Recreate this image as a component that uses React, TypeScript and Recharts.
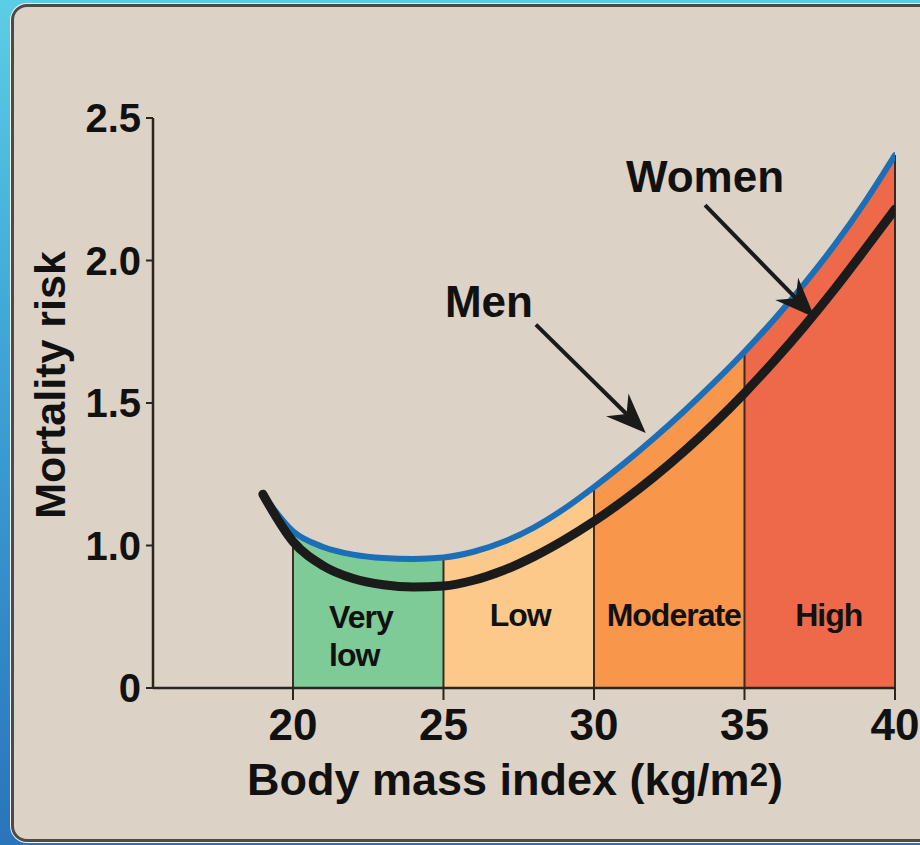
import React from 'react';
import { ComposedChart, Line, Area, XAxis, YAxis, ReferenceLine, ReferenceDot } from 'recharts';

// ---- data ----
const bmi = [19, 20, 21, 22, 23, 24, 25, 26, 27, 28, 29, 30, 31, 32, 33, 34, 35, 36, 37, 38, 39, 40];
// blue curve (arrow "Men")
const menRisk = [1.18, 1.05, 0.995, 0.968, 0.956, 0.953, 0.958, 0.978, 1.013, 1.063, 1.128, 1.205, 1.288, 1.377, 1.472, 1.573, 1.68, 1.795, 1.92, 2.055, 2.205, 2.37];
// black curve (arrow "Women")
const womenRisk = [1.18, 1.014, 0.929, 0.884, 0.862, 0.854, 0.858, 0.878, 0.913, 0.961, 1.019, 1.085, 1.159, 1.241, 1.331, 1.429, 1.535, 1.649, 1.771, 1.901, 2.039, 2.18];

const zoneNames = ['Very low', 'Low', 'Moderate', 'High'];
const zoneStart = [20, 25, 30, 35];
const zoneEnd = [25, 30, 35, 40];
const zoneColors = ['#7ecb98', '#fdc98b', '#f8964c', '#ee6949'];
// label anchor positions (bmi, displayed risk)
const zoneLabelX = [21.2, 27.55, 32.65, 37.8];
const zoneLabelY = [0.75, 0.757, 0.757, 0.757];

const xTicks = [20, 25, 30, 35, 40];
const yTicks = [0.5, 1.0, 1.5, 2.0, 2.5];
const yTickLabels = ['0', '1.0', '1.5', '2.0', '2.5'];

const menLabel = { text: 'Men', x: 26.51, y: 1.856 };
const womenLabel = { text: 'Women', x: 33.69, y: 2.296 };
const menArrow = [{ x: 28.07, y: 1.775 }, { x: 31.72, y: 1.395 }];
const womenArrow = [{ x: 33.69, y: 2.194 }, { x: 37.33, y: 1.8 }];

const rows = bmi.map((b, i) => {
  const r: any = { bmi: b, men: menRisk[i], women: womenRisk[i] };
  zoneStart.forEach((s, z) => {
    r['z' + z] = b >= s && b <= zoneEnd[z] ? menRisk[i] : null;
  });
  return r;
});

const menAt = (x: number) => menRisk[bmi.indexOf(x)];

const FONT = '"Liberation Sans", Arial, Helvetica, sans-serif';

const arrowShape = (p: any) => {
  const x1 = Number(p.x1), y1 = Number(p.y1), x2 = Number(p.x2), y2 = Number(p.y2);
  const dx = x2 - x1, dy = y2 - y1;
  const len = Math.hypot(dx, dy) || 1;
  const ux = dx / len, uy = dy / len;
  const px = -uy, py = ux;
  const L = 40, W = 16, N = 27;
  const pts = [
    [x2, y2],
    [x2 - ux * L + px * W, y2 - uy * L + py * W],
    [x2 - ux * N, y2 - uy * N],
    [x2 - ux * L - px * W, y2 - uy * L - py * W],
  ];
  return (
    <g>
      <line x1={x1} y1={y1} x2={x2 - ux * N} y2={y2 - uy * N} stroke="#1a1a1a" strokeWidth={4} />
      <polygon points={pts.map((q) => q.join(',')).join(' ')} fill="#1a1a1a" />
    </g>
  );
};

const textShape = (text: string, size: number, anchor: string, spacing = 0) => (p: any) => (
  <text
    x={p.cx}
    y={p.cy}
    dy="0.36em"
    textAnchor={anchor as any}
    fontFamily={FONT}
    fontWeight={700}
    fontSize={size}
    letterSpacing={spacing}
    fill="#111"
  >
    {text}
  </text>
);

const YTitle = (props: any) => {
  const vb = props.viewBox || { x: 0, y: 118, width: 153, height: 570 };
  const cx = vb.x + 65;
  const cy = vb.y + vb.height / 2 - 18;
  return (
    <text
      x={cx}
      y={cy}
      transform={`rotate(-90 ${cx} ${cy})`}
      textAnchor="middle"
      fontFamily={FONT}
      fontWeight={700}
      fontSize={43}
      fill="#111"
    >
      Mortality risk
    </text>
  );
};

const XTitle = (props: any) => {
  const vb = props.viewBox || { x: 153, y: 688, width: 742, height: 157 };
  const cx = vb.x + vb.width / 2 - 9;
  const cy = vb.y + 107;
  return (
    <text x={cx} y={cy} textAnchor="middle" fontFamily={FONT} fontWeight={700} fontSize={45} fill="#111">
      <tspan>Body mass index (kg/m</tspan>
      <tspan dy={-9} fontSize={33}>2</tspan>
      <tspan dy={9}>)</tspan>
    </text>
  );
};

export default function App() {
  return (
    <div
      style={{
        position: 'fixed',
        left: 0,
        top: 0,
        width: 920,
        height: 845,
        overflow: 'hidden',
        background: 'linear-gradient(180deg, #5ccde6 0%, #3fa6d6 40%, #2a74bb 100%)',
      }}
    >
      <div
        style={{
          position: 'absolute',
          left: 11,
          top: 4,
          width: 940,
          height: 838,
          boxSizing: 'border-box',
          border: '3px solid #4d4a47',
          borderRadius: 16,
          background: '#ddd2c6',
          boxShadow: '0 0 0 1px #f2f2f2',
        }}
      />
      <div style={{ position: 'absolute', left: 0, top: 0 }}>
        <ComposedChart
          width={920}
          height={845}
          data={rows}
          margin={{ top: 118, right: 25, bottom: 0, left: 0 }}
        >
          <XAxis
            dataKey="bmi"
            type="number"
            domain={[15.35, 40]}
            allowDataOverflow
            ticks={xTicks}
            height={157}
            tickSize={12}
            tickMargin={9}
            axisLine={{ stroke: '#2b2520', strokeWidth: 2.5 }}
            tickLine={{ stroke: '#2b2520', strokeWidth: 2 }}
            tick={{ fill: '#111', fontSize: 44, fontWeight: 700, fontFamily: FONT }}
            label={{ content: XTitle }}
          />
          <YAxis
            type="number"
            domain={[0.5, 2.5]}
            allowDataOverflow
            ticks={yTicks}
            tickFormatter={(v: number) => yTickLabels[yTicks.indexOf(v)] ?? String(v)}
            width={153}
            tickSize={7}
            tickMargin={5}
            axisLine={{ stroke: '#2b2520', strokeWidth: 2.5 }}
            tickLine={{ stroke: '#2b2520', strokeWidth: 2 }}
            tick={{ fill: '#111', fontSize: 40, fontWeight: 700, fontFamily: FONT }}
            label={{ content: YTitle }}
          />
          {zoneNames.map((n, z) => (
            <Area
              key={n}
              name={n}
              dataKey={'z' + z}
              type="monotone"
              fill={zoneColors[z]}
              fillOpacity={1}
              stroke="none"
              baseValue={0.5}
              dot={false}
              activeDot={false}
              isAnimationActive={false}
            />
          ))}
          {xTicks.map((x) => (
            <ReferenceLine
              key={'d' + x}
              segment={[
                { x, y: 0.5 },
                { x, y: menAt(x) },
              ]}
              stroke="#3a2a20"
              strokeWidth={2}
              ifOverflow="visible"
            />
          ))}
          <Line
            dataKey="men"
            type="monotone"
            stroke="#1c6fb7"
            strokeWidth={6}
            dot={false}
            activeDot={false}
            strokeLinecap="round"
            isAnimationActive={false}
          />
          <Line
            dataKey="women"
            type="monotone"
            stroke="#1b1b1b"
            strokeWidth={9}
            dot={false}
            activeDot={false}
            strokeLinecap="round"
            isAnimationActive={false}
          />
          <ReferenceLine segment={menArrow} shape={arrowShape} ifOverflow="visible" />
          <ReferenceLine segment={womenArrow} shape={arrowShape} ifOverflow="visible" />
          <ReferenceDot x={menLabel.x} y={menLabel.y} r={0} ifOverflow="visible" shape={textShape(menLabel.text, 44, 'middle')} />
          <ReferenceDot x={womenLabel.x} y={womenLabel.y} r={0} ifOverflow="visible" shape={textShape(womenLabel.text, 44, 'middle')} />
          {zoneNames.map((n, z) =>
            z === 0 ? (
              <React.Fragment key={'l' + z}>
                <ReferenceDot x={zoneLabelX[z]} y={zoneLabelY[z]} r={0} ifOverflow="visible" shape={textShape('Very', 32, 'start', -1)} />
                <ReferenceDot x={zoneLabelX[z]} y={0.616} r={0} ifOverflow="visible" shape={textShape('low', 32, 'start', -1)} />
              </React.Fragment>
            ) : (
              <ReferenceDot
                key={'l' + z}
                x={zoneLabelX[z]}
                y={zoneLabelY[z]}
                r={0}
                ifOverflow="visible"
                shape={textShape(n, 32, 'middle', -1)}
              />
            )
          )}
        </ComposedChart>
      </div>
    </div>
  );
}
